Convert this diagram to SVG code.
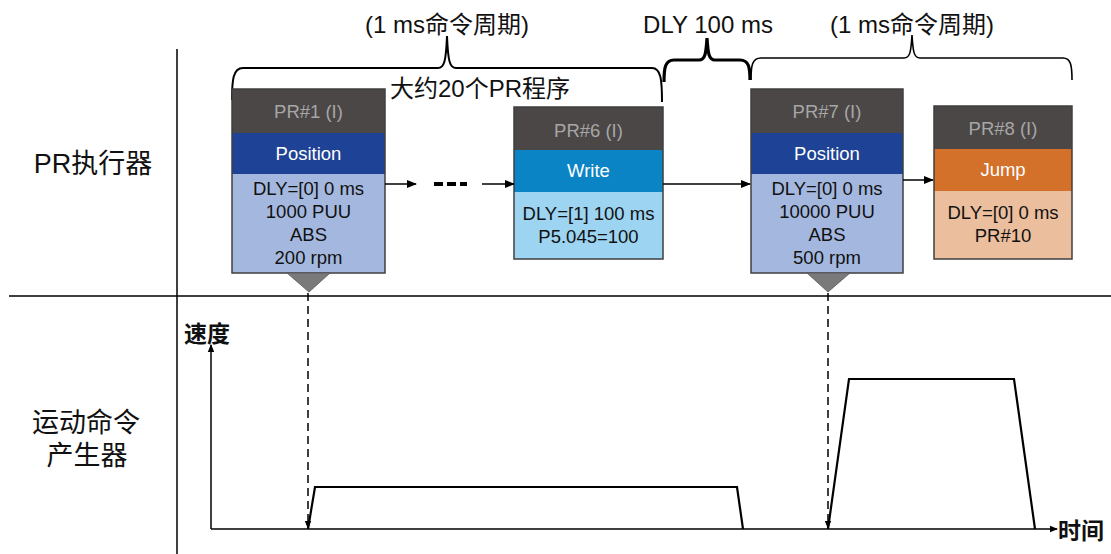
<svg xmlns="http://www.w3.org/2000/svg" width="1111" height="554" viewBox="0 0 1111 554">
<style>
text{font-family:"Liberation Sans","Noto Sans CJK SC",sans-serif;fill:#111}
.lbl{font-size:27px}
.top{font-size:24px}
.ax{font-size:23px;font-weight:bold}
.bt{font-size:18.5px;text-anchor:middle}
.hd{fill:#a6a6a6}
.wt{fill:#fff}
.frame{fill:none;stroke:#3f3f3f;stroke-width:1.5}
.line{stroke:#000;stroke-width:1.5;fill:none}
.brace{fill:none;stroke:#000}
.prof{fill:none;stroke:#000;stroke-width:2.2;stroke-linejoin:miter}
</style>
<defs>
<marker id="ah" markerWidth="10" markerHeight="8" refX="9" refY="4" orient="auto" markerUnits="userSpaceOnUse"><path d="M0,0 L10,4 L0,8 z" fill="#000"/></marker>
<marker id="ahs" markerWidth="8" markerHeight="8" refX="7" refY="4" orient="auto" markerUnits="userSpaceOnUse"><path d="M0,0.8 L8,4 L0,7.2 z" fill="#000"/></marker>
</defs>
<rect width="1111" height="554" fill="#fff"/>

<g id="dividers">
<line x1="177" y1="49" x2="177" y2="554" class="line"/>
<line x1="9" y1="296" x2="1111" y2="296" class="line"/>
</g>

<g id="labels">
<text class="lbl" x="93" y="173" text-anchor="middle">PR执行器</text>
<text class="lbl" x="86" y="432" text-anchor="middle">运动命令</text>
<text class="lbl" x="87" y="465" text-anchor="middle">产生器</text>
</g>

<g id="braces">
<path class="brace" stroke-width="2" d="M232,100 C232,80 233,68 243,68 L438,68 C444,68 446,62 447,36 C448,62 450,68 456,68 L652,68 C661,68 662,80 662,102"/>
<path class="brace" stroke-width="3.2" d="M664,82 C664,68 665,60 674,60 L699,60 C705,60 706,54 707,38 C708,54 709,60 715,60 L740,60 C749,60 750,68 750,80"/>
<path class="brace" stroke-width="1.6" d="M751,80 C751,66 752,58 761,58 L904,58 C910,58 911,52 912,35 C913,52 914,58 920,58 L1063,58 C1071,58 1072,66 1072,80"/>
<text class="top" x="447" y="33" text-anchor="middle">(1 ms命令周期)</text>
<text class="top" x="708" y="33" text-anchor="middle">DLY 100 ms</text>
<text class="top" x="912" y="33" text-anchor="middle">(1 ms命令周期)</text>
<text class="top" x="480" y="97" text-anchor="middle">大约20个PR程序</text>
</g>

<g id="pr1">
<rect x="232" y="89" width="153" height="44" fill="#4b4746"/>
<rect x="232" y="133" width="153" height="41" fill="#1e4295"/>
<rect x="232" y="174" width="153" height="99" fill="#a4b8df"/>
<rect x="232" y="89" width="153" height="184" class="frame"/>
<text class="bt hd" x="308.5" y="118">PR#1 (I)</text>
<text class="bt wt" x="308.5" y="160">Position</text>
<text class="bt" x="308.5" y="195">DLY=[0] 0 ms</text>
<text class="bt" x="308.5" y="218">1000 PUU</text>
<text class="bt" x="308.5" y="241">ABS</text>
<text class="bt" x="308.5" y="264">200 rpm</text>
<polygon points="287,273 330,273 309,292" fill="#7a7a7a" stroke="#555" stroke-width="0.8"/>
</g>

<g id="pr6">
<rect x="514" y="107" width="149" height="43" fill="#4b4746"/>
<rect x="514" y="150" width="149" height="42" fill="#0b84c5"/>
<rect x="514" y="192" width="149" height="67" fill="#9dd4f1"/>
<rect x="514" y="107" width="149" height="152" class="frame"/>
<text class="bt hd" x="588.5" y="137">PR#6 (I)</text>
<text class="bt wt" x="588.5" y="177">Write</text>
<text class="bt" x="588.5" y="220">DLY=[1] 100 ms</text>
<text class="bt" x="588.5" y="243">P5.045=100</text>
</g>

<g id="pr7">
<rect x="751" y="89" width="152" height="44" fill="#4b4746"/>
<rect x="751" y="133" width="152" height="41" fill="#1e4295"/>
<rect x="751" y="174" width="152" height="99" fill="#a4b8df"/>
<rect x="751" y="89" width="152" height="184" class="frame"/>
<text class="bt hd" x="827" y="118">PR#7 (I)</text>
<text class="bt wt" x="827" y="160">Position</text>
<text class="bt" x="827" y="195">DLY=[0] 0 ms</text>
<text class="bt" x="827" y="218">10000 PUU</text>
<text class="bt" x="827" y="241">ABS</text>
<text class="bt" x="827" y="264">500 rpm</text>
<polygon points="807,273 850,273 828,292" fill="#7a7a7a" stroke="#555" stroke-width="0.8"/>
</g>

<g id="pr8">
<rect x="934" y="106" width="138" height="43" fill="#4b4746"/>
<rect x="934" y="149" width="138" height="42" fill="#d3712b"/>
<rect x="934" y="191" width="138" height="68" fill="#ebbe9d"/>
<rect x="934" y="106" width="138" height="153" class="frame"/>
<text class="bt hd" x="1003" y="135">PR#8 (I)</text>
<text class="bt wt" x="1003" y="176">Jump</text>
<text class="bt" x="1003" y="219">DLY=[0] 0 ms</text>
<text class="bt" x="1003" y="242">PR#10</text>
</g>

<g id="connectors">
<line x1="385" y1="184" x2="416" y2="184" class="line" marker-end="url(#ah)"/>
<line x1="434" y1="184" x2="467" y2="184" stroke="#000" stroke-width="4" stroke-dasharray="9 4"/>
<line x1="482" y1="184" x2="514" y2="184" class="line" marker-end="url(#ah)"/>
<line x1="663" y1="184" x2="750" y2="184" class="line" marker-end="url(#ah)"/>
<line x1="903" y1="180" x2="933" y2="180" class="line" marker-end="url(#ah)"/>
<line x1="308" y1="293" x2="308" y2="528" stroke="#000" stroke-width="1.5" stroke-dasharray="8 5" marker-end="url(#ahs)"/>
<line x1="828" y1="293" x2="828" y2="528" stroke="#000" stroke-width="1.5" stroke-dasharray="8 5" marker-end="url(#ahs)"/>
</g>

<g id="chart">
<line x1="211" y1="529" x2="211" y2="345" class="line" stroke-width="2" marker-end="url(#ahs)"/>
<line x1="211" y1="529" x2="1057" y2="529" class="line" stroke-width="2" marker-end="url(#ahs)"/>
<polyline class="prof" points="308,529 315,487 737,487 743,529"/>
<polyline class="prof" points="828,529 849,379 1014,379 1035,529"/>
<text class="ax" x="184" y="342">速度</text>
<text class="ax" x="1058" y="539">时间</text>
</g>
</svg>
